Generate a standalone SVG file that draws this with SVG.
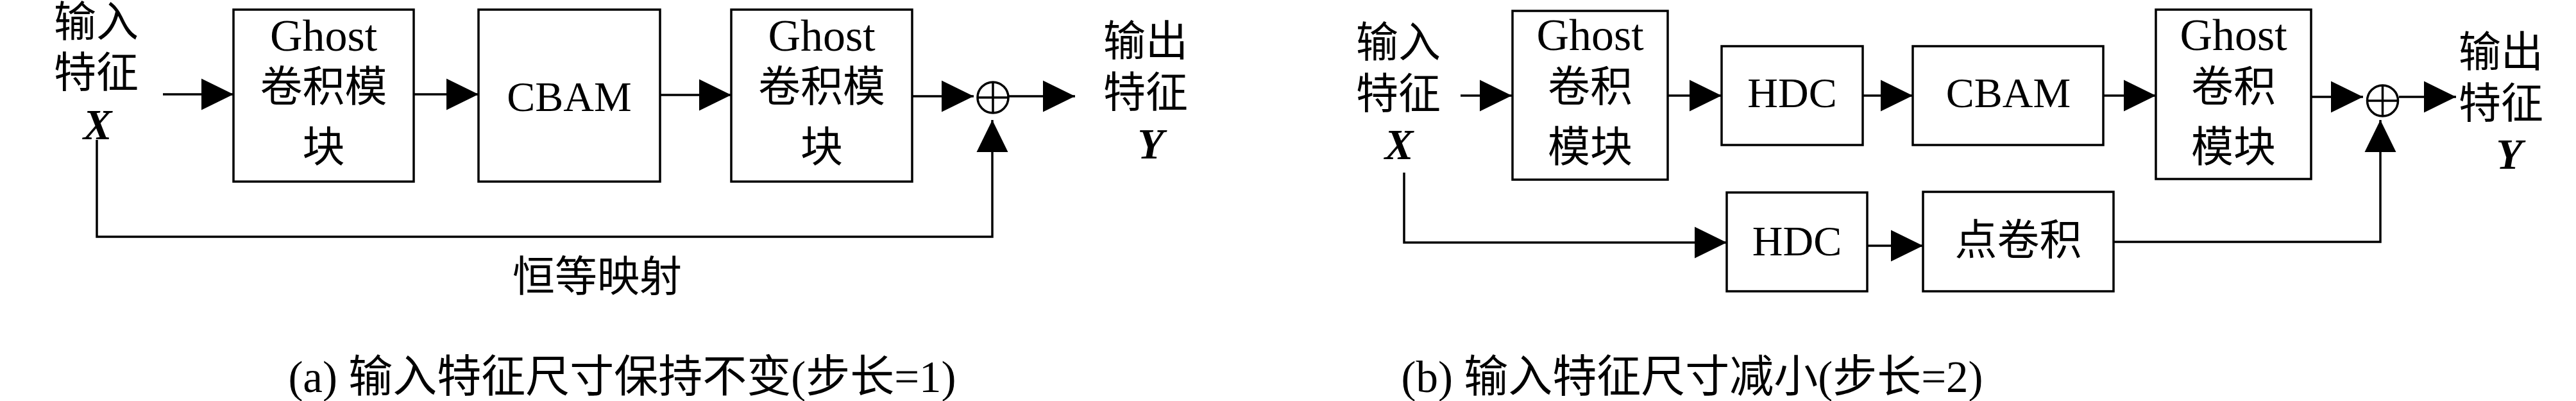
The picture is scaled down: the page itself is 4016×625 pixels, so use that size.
<svg xmlns="http://www.w3.org/2000/svg" width="4016" height="625" viewBox="0 0 4016 625">
<defs>
<marker id="ah" markerUnits="userSpaceOnUse" markerWidth="50" markerHeight="50" viewBox="0 0 49 48" refX="49" refY="24" orient="auto">
<path d="M0,0 L49,24 L0,48 Z" fill="#000"/>
</marker>
<style>
.box{fill:#fff;stroke:#000;stroke-width:3.5}
.ln{fill:none;stroke:#000;stroke-width:3.5}
.arr{fill:none;stroke:#000;stroke-width:3.5;marker-end:url(#ah)}
.t{font-family:"Liberation Serif","Noto Sans CJK SC",serif;font-size:66px;fill:#000;text-anchor:middle}
.g{font-family:"Liberation Serif",serif;font-size:70px;fill:#000;text-anchor:middle}
.v{font-family:"Liberation Serif",serif;font-size:67px;font-weight:bold;font-style:italic;fill:#000;text-anchor:middle}
.cap{font-family:"Liberation Serif","Noto Sans CJK SC",serif;font-size:69px;fill:#000;text-anchor:middle}
</style>
</defs>
<rect width="4016" height="625" fill="#fff"/>

<g id="connectors">
<path class="arr" d="M254,147 L364,147"/>
<path class="arr" d="M645,147 L746,147"/>
<path class="arr" d="M1029,148 L1140,148"/>
<path class="arr" d="M1422,150 L1518,150"/>
<path class="arr" d="M1573,150 L1676,150"/>
<path class="arr" d="M151,218 L151,369 L1547,369 L1547,187"/>
<path class="arr" d="M2277,149 L2357,149"/>
<path class="arr" d="M2600,149 L2684,149"/>
<path class="arr" d="M2904,149 L2982,149"/>
<path class="arr" d="M3279,149 L3361,149"/>
<path class="arr" d="M3603,151 L3684,151"/>
<path class="arr" d="M3740,151 L3829,151"/>
<path class="arr" d="M2189,269 L2189,378 L2692,378"/>
<path class="arr" d="M2911,383 L2998,383"/>
<path class="arr" d="M3295,377 L3711,377 L3711,187"/>
</g>

<g id="a-input">
<text class="t" x="150" y="57">输入</text>
<text class="t" x="150" y="136">特征</text>
<text class="v" x="152" y="217">X</text>
</g>
<g id="a-ghost1">
<rect class="box" x="364" y="15" width="281" height="268"/>
<text class="g" x="504.5" y="79">Ghost</text>
<text class="t" x="504.5" y="158">卷积模</text>
<text class="t" x="504.5" y="252">块</text>
</g>
<g id="a-cbam">
<rect class="box" x="746" y="15" width="283" height="268"/>
<text class="t" x="887.5" y="173">CBAM</text>
</g>
<g id="a-ghost2">
<rect class="box" x="1140" y="15" width="282" height="268"/>
<text class="g" x="1281" y="79">Ghost</text>
<text class="t" x="1281" y="158">卷积模</text>
<text class="t" x="1281" y="252">块</text>
</g>
<g id="a-sum">
<circle class="ln" cx="1548" cy="152" r="24"/>
<path class="ln" d="M1524,152 L1572,152 M1548,128 L1548,176"/>
</g>
<g id="a-output">
<text class="t" x="1786" y="87">输出</text>
<text class="t" x="1786" y="167">特征</text>
<text class="v" x="1794" y="247">Y</text>
</g>
<g id="a-identity">
<text class="t" x="931" y="454">恒等映射</text>
</g>
<g id="a-caption">
<text class="cap" x="970" y="611">(a) 输入特征尺寸保持不变(步长=1)</text>
</g>

<g id="b-input">
<text class="t" x="2180" y="89">输入</text>
<text class="t" x="2180" y="169">特征</text>
<text class="v" x="2181" y="248">X</text>
</g>
<g id="b-ghost1">
<rect class="box" x="2358" y="17" width="242" height="263"/>
<text class="g" x="2479" y="78">Ghost</text>
<text class="t" x="2479" y="158">卷积</text>
<text class="t" x="2479" y="252">模块</text>
</g>
<g id="b-hdc1">
<rect class="box" x="2684" y="72" width="220" height="154"/>
<text class="t" x="2794" y="167">HDC</text>
</g>
<g id="b-cbam">
<rect class="box" x="2982" y="72" width="297" height="154"/>
<text class="t" x="3131" y="167">CBAM</text>
</g>
<g id="b-ghost2">
<rect class="box" x="3361" y="15" width="242" height="264"/>
<text class="g" x="3482" y="78">Ghost</text>
<text class="t" x="3482" y="158">卷积</text>
<text class="t" x="3482" y="252">模块</text>
</g>
<g id="b-sum">
<circle class="ln" cx="3714.5" cy="157" r="24"/>
<path class="ln" d="M3690.5,157 L3738.5,157 M3714.5,133 L3714.5,181"/>
</g>
<g id="b-output">
<text class="t" x="3899" y="104">输出</text>
<text class="t" x="3899" y="184">特征</text>
<text class="v" x="3912" y="263">Y</text>
</g>
<g id="b-hdc2">
<rect class="box" x="2692" y="300" width="219" height="154"/>
<text class="t" x="2801.5" y="398">HDC</text>
</g>
<g id="b-pointconv">
<rect class="box" x="2998" y="299" width="297" height="155"/>
<text class="t" x="3146.5" y="397">点卷积</text>
</g>
<g id="b-caption">
<text class="cap" x="2638" y="611">(b) 输入特征尺寸减小(步长=2)</text>
</g>
</svg>
